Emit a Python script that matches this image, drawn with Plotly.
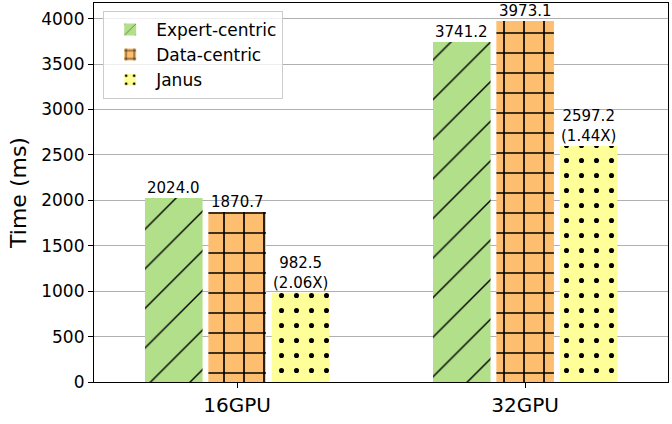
import plotly.graph_objects as go

categories = ["16GPU", "32GPU"]
series_names = ["Expert-centric", "Data-centric", "Janus"]
expert_vals = [2024.0, 3741.2]
data_vals = [1870.7, 3973.1]
janus_vals = [982.5, 2597.2]
speedup_labels = ["(2.06X)", "(1.44X)"]
yticks = [0, 500, 1000, 1500, 2000, 2500, 3000, 3500, 4000]

colors = ["#b2df8a", "#fdbf6f", "#ffff99"]
shapes = ["/", "+", "."]
sizes = [28, 20, 15]
solidities = [0.05, 0.16, 0.09]
offsets = [-0.22, 0.0, 0.22]
bar_w = 0.2

font = "DejaVu Sans"
fig = go.Figure()
xs = list(range(len(categories)))
annotations = []
for name, vals, col, shp, sz, sol, off in zip(series_names, [expert_vals, data_vals, janus_vals],
                                              colors, shapes, sizes, solidities, offsets):
    fig.add_trace(go.Bar(
        name=name,
        x=[x + off for x in xs],
        y=vals,
        width=bar_w,
        marker=dict(color=col, line=dict(width=0),
                    pattern=dict(shape=shp, size=sz, solidity=sol,
                                 fgcolor="black", fgopacity=1)),
    ))
    for i, (x, v) in enumerate(zip(xs, vals)):
        txt = f"{v:.1f}"
        if name == "Janus":
            txt = txt + "<br>" + speedup_labels[i]
        annotations.append(dict(x=x + off, y=v, xref="x", yref="y", text=txt,
                                showarrow=False, yanchor="bottom", yshift=-1,
                                font=dict(family=font, size=15, color="black")))

fig.update_layout(
    width=672, height=424,
    margin=dict(l=94, r=4, t=3, b=42),
    paper_bgcolor="white", plot_bgcolor="white",
    barmode="overlay",
    font=dict(family=font, color="black"),
    annotations=annotations,
    showlegend=True,
    legend=dict(x=0.016, y=0.979, xanchor="left", yanchor="top",
                bgcolor="rgba(255,255,255,0.8)", bordercolor="#cccccc", borderwidth=1,
                font=dict(family=font, size=17), tracegroupgap=0, itemwidth=42),
)
fig.update_xaxes(
    range=[-0.497, 1.496], tickvals=xs, ticktext=categories,
    tickfont=dict(family=font, size=20), ticks="outside", ticklen=5, tickcolor="black",
    showline=True, linecolor="black", linewidth=1.2, mirror=True, showgrid=False, zeroline=False,
)
fig.update_yaxes(
    range=[0, 4171.8], tickvals=yticks,
    tickfont=dict(family=font, size=17), ticks="outside", ticklen=5, tickcolor="black",
    showline=True, linecolor="black", linewidth=1.2, mirror=True,
    showgrid=True, gridcolor="#b0b0b0", gridwidth=1.2, zeroline=False,
    title=dict(text="Time (ms)", font=dict(family=font, size=22), standoff=8),
)
fig.write_html("out.html")
